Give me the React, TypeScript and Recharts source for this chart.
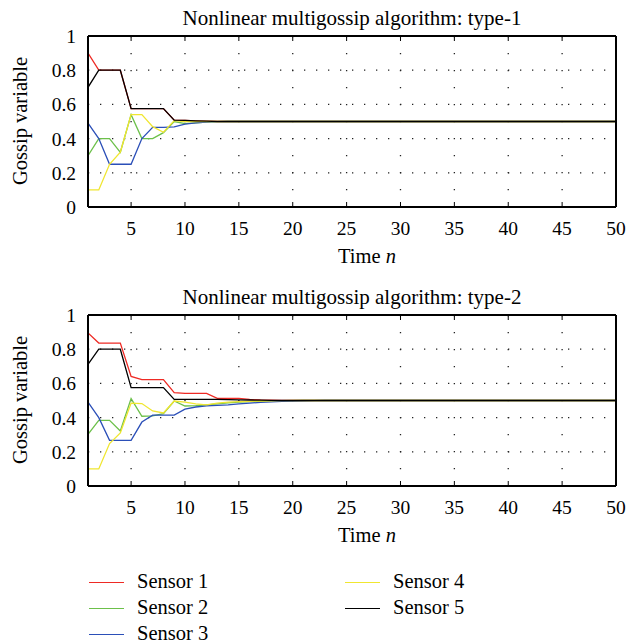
import React from 'react'
import { LineChart, Line, XAxis, YAxis, CartesianGrid } from 'recharts'

const steps = Array.from({ length: 50 }, (_, i) => i + 1)
const xTicks = [5, 10, 15, 20, 25, 30, 35, 40, 45, 50]
const yTicks = [0, 0.2, 0.4, 0.6, 0.8, 1]

// type-1
const t1s1 = [0.9, 0.8, 0.8, 0.8, 0.575, 0.575, 0.575, 0.575, 0.508, 0.506, 0.504, 0.502, 0.5, 0.5, 0.5, 0.5, 0.5, 0.5, 0.5, 0.5, 0.5, 0.5, 0.5, 0.5, 0.5, 0.5, 0.5, 0.5, 0.5, 0.5, 0.5, 0.5, 0.5, 0.5, 0.5, 0.5, 0.5, 0.5, 0.5, 0.5, 0.5, 0.5, 0.5, 0.5, 0.5, 0.5, 0.5, 0.5, 0.5, 0.5]
const t1s2 = [0.3, 0.4, 0.4, 0.32, 0.54, 0.4, 0.4, 0.435, 0.5, 0.488, 0.492, 0.496, 0.499, 0.5, 0.5, 0.5, 0.5, 0.5, 0.5, 0.5, 0.5, 0.5, 0.5, 0.5, 0.5, 0.5, 0.5, 0.5, 0.5, 0.5, 0.5, 0.5, 0.5, 0.5, 0.5, 0.5, 0.5, 0.5, 0.5, 0.5, 0.5, 0.5, 0.5, 0.5, 0.5, 0.5, 0.5, 0.5, 0.5, 0.5]
const t1s3 = [0.49, 0.4, 0.25, 0.25, 0.25, 0.4, 0.466, 0.466, 0.468, 0.485, 0.492, 0.496, 0.499, 0.5, 0.5, 0.5, 0.5, 0.5, 0.5, 0.5, 0.5, 0.5, 0.5, 0.5, 0.5, 0.5, 0.5, 0.5, 0.5, 0.5, 0.5, 0.5, 0.5, 0.5, 0.5, 0.5, 0.5, 0.5, 0.5, 0.5, 0.5, 0.5, 0.5, 0.5, 0.5, 0.5, 0.5, 0.5, 0.5, 0.5]
const t1s4 = [0.1, 0.1, 0.25, 0.32, 0.54, 0.54, 0.47, 0.437, 0.505, 0.5, 0.5, 0.5, 0.5, 0.5, 0.5, 0.5, 0.5, 0.5, 0.5, 0.5, 0.5, 0.5, 0.5, 0.5, 0.5, 0.5, 0.5, 0.5, 0.5, 0.5, 0.5, 0.5, 0.5, 0.5, 0.5, 0.5, 0.5, 0.5, 0.5, 0.5, 0.5, 0.5, 0.5, 0.5, 0.5, 0.5, 0.5, 0.5, 0.5, 0.5]
const t1s5 = [0.7, 0.8, 0.8, 0.8, 0.575, 0.575, 0.575, 0.575, 0.508, 0.506, 0.504, 0.502, 0.5, 0.5, 0.5, 0.5, 0.5, 0.5, 0.5, 0.5, 0.5, 0.5, 0.5, 0.5, 0.5, 0.5, 0.5, 0.5, 0.5, 0.5, 0.5, 0.5, 0.5, 0.5, 0.5, 0.5, 0.5, 0.5, 0.5, 0.5, 0.5, 0.5, 0.5, 0.5, 0.5, 0.5, 0.5, 0.5, 0.5, 0.5]

// type-2
const t2s1 = [0.895, 0.836, 0.836, 0.836, 0.641, 0.622, 0.622, 0.622, 0.546, 0.542, 0.542, 0.542, 0.512, 0.512, 0.512, 0.506, 0.503, 0.502, 0.501, 0.5, 0.5, 0.5, 0.5, 0.5, 0.5, 0.5, 0.5, 0.5, 0.5, 0.5, 0.5, 0.5, 0.5, 0.5, 0.5, 0.5, 0.5, 0.5, 0.5, 0.5, 0.5, 0.5, 0.5, 0.5, 0.5, 0.5, 0.5, 0.5, 0.5, 0.5]
const t2s2 = [0.302, 0.384, 0.384, 0.322, 0.511, 0.408, 0.41, 0.423, 0.497, 0.468, 0.47, 0.475, 0.48, 0.486, 0.49, 0.493, 0.495, 0.497, 0.498, 0.499, 0.5, 0.5, 0.5, 0.5, 0.5, 0.5, 0.5, 0.5, 0.5, 0.5, 0.5, 0.5, 0.5, 0.5, 0.5, 0.5, 0.5, 0.5, 0.5, 0.5, 0.5, 0.5, 0.5, 0.5, 0.5, 0.5, 0.5, 0.5, 0.5, 0.5]
const t2s3 = [0.49, 0.4, 0.267, 0.267, 0.267, 0.374, 0.414, 0.414, 0.415, 0.449, 0.462, 0.468, 0.472, 0.475, 0.48, 0.485, 0.489, 0.492, 0.495, 0.497, 0.498, 0.499, 0.5, 0.5, 0.5, 0.5, 0.5, 0.5, 0.5, 0.5, 0.5, 0.5, 0.5, 0.5, 0.5, 0.5, 0.5, 0.5, 0.5, 0.5, 0.5, 0.5, 0.5, 0.5, 0.5, 0.5, 0.5, 0.5, 0.5, 0.5]
const t2s4 = [0.1, 0.1, 0.248, 0.31, 0.485, 0.482, 0.439, 0.427, 0.497, 0.49, 0.48, 0.475, 0.485, 0.49, 0.493, 0.495, 0.497, 0.498, 0.499, 0.5, 0.5, 0.5, 0.5, 0.5, 0.5, 0.5, 0.5, 0.5, 0.5, 0.5, 0.5, 0.5, 0.5, 0.5, 0.5, 0.5, 0.5, 0.5, 0.5, 0.5, 0.5, 0.5, 0.5, 0.5, 0.5, 0.5, 0.5, 0.5, 0.5, 0.5]
const t2s5 = [0.712, 0.8, 0.8, 0.8, 0.575, 0.575, 0.575, 0.575, 0.506, 0.506, 0.506, 0.506, 0.506, 0.505, 0.504, 0.503, 0.502, 0.501, 0.5, 0.5, 0.5, 0.5, 0.5, 0.5, 0.5, 0.5, 0.5, 0.5, 0.5, 0.5, 0.5, 0.5, 0.5, 0.5, 0.5, 0.5, 0.5, 0.5, 0.5, 0.5, 0.5, 0.5, 0.5, 0.5, 0.5, 0.5, 0.5, 0.5, 0.5, 0.5]

const sensorNames = ['Sensor 1', 'Sensor 2', 'Sensor 3', 'Sensor 4', 'Sensor 5']
const sensorColors = ['#ee2a24', '#6cc04a', '#2b4fb8', '#f0e630', '#000000']

const FONT = '"Liberation Serif", "Times New Roman", serif'

const toRows = (series: number[][]) =>
  steps.map((n, i) => {
    const row: any = { n }
    series.forEach((s, k) => { row['s' + (k + 1)] = s[i] })
    return row
  })

const type1 = toRows([t1s1, t1s2, t1s3, t1s4, t1s5])
const type2 = toRows([t2s1, t2s2, t2s3, t2s4, t2s5])

const BottomTick = (props: any) => {
  const { x, y, payload } = props
  return (
    <g>
      <line x1={x} x2={x} y1={y} y2={y - 5} stroke="#000" strokeWidth={1} />
      <text x={x} y={y + 28} textAnchor="middle" fontSize={19.5} fontFamily={FONT} fill="#000">{payload.value}</text>
    </g>
  )
}

const TopTick = (props: any) => {
  const { x, y } = props
  return <line x1={x} x2={x} y1={y} y2={y + 5} stroke="#000" strokeWidth={1} />
}

const LeftTick = (props: any) => {
  const { x, y, payload } = props
  return (
    <text x={x} y={y + 7} textAnchor="end" fontSize={19.5} fontFamily={FONT} fill="#000">{payload.value}</text>
  )
}

function Panel({ data, title, top }: { data: any[]; title: string; top: number }) {
  return (
    <div style={{ position: 'absolute', left: 0, top, width: 626, height: 280 }}>
      <LineChart width={626} height={280} data={data} margin={{ top: 35, right: 9, left: 28, bottom: 43 }}>
        <CartesianGrid horizontal={true} vertical={false} stroke="#222" strokeWidth={1.3} strokeDasharray="1.3 10.7" />
        <CartesianGrid horizontal={false} vertical={true} stroke="#222" strokeWidth={1.3} strokeDasharray="1.3 15.7" />
        <XAxis dataKey="n" type="number" domain={[1, 50]} ticks={xTicks} allowDataOverflow
          height={30} tickSize={0} tickMargin={0} tickLine={false} tick={<BottomTick />}
          axisLine={{ stroke: '#000', strokeWidth: 2 }} />
        <XAxis xAxisId="top" orientation="top" dataKey="n" type="number" domain={[1, 50]} ticks={xTicks}
          height={1} tickSize={0} tickMargin={0} tickLine={false} tick={<TopTick />}
          axisLine={{ stroke: '#000', strokeWidth: 2 }} />
        <YAxis type="number" domain={[0, 1]} ticks={yTicks} width={60} tickSize={0} tickMargin={12}
          tickLine={false} tick={<LeftTick />} axisLine={{ stroke: '#000', strokeWidth: 2 }} />
        <YAxis yAxisId="right" orientation="right" type="number" domain={[0, 1]} ticks={yTicks} width={1}
          tick={false} tickLine={false} axisLine={{ stroke: '#000', strokeWidth: 2 }} />
        {sensorNames.map((name, k) => (
          <Line key={name} type="linear" dataKey={'s' + (k + 1)} name={name} stroke={sensorColors[k]}
            strokeWidth={1.3} dot={false} isAnimationActive={false} />
        ))}
      </LineChart>
      <div style={{ position: 'absolute', left: 88, width: 528, top: 6, textAlign: 'center', fontFamily: FONT, fontSize: 21, lineHeight: '24px', whiteSpace: 'nowrap' }}>{title}</div>
      <div style={{ position: 'absolute', left: 267, width: 200, top: 244, textAlign: 'center', fontFamily: FONT, fontSize: 20.5, lineHeight: '24px' }}>Time <i>n</i></div>
      <div style={{ position: 'absolute', left: 20 - 90, top: 121 - 12, width: 180, textAlign: 'center', transform: 'rotate(-90deg)', fontFamily: FONT, fontSize: 20.5, lineHeight: '24px', whiteSpace: 'nowrap' }}>Gossip variable</div>
    </div>
  )
}

function Legend() {
  const cols = [[0, 1, 2], [3, 4]]
  const colX = [[89, 137], [345, 393]]
  return (
    <>
      {cols.map((col, c) => col.map((k, r) => (
        <div key={k} style={{ position: 'absolute', left: colX[c][0], top: 582 + r * 26 - 12, height: 24, display: 'flex', alignItems: 'center' }}>
          <div style={{ width: 35, height: 0, borderTop: `1.3px solid ${sensorColors[k]}` }} />
          <div style={{ position: 'absolute', left: colX[c][1] - colX[c][0], top: -1, whiteSpace: 'nowrap', fontFamily: FONT, fontSize: 20.5, lineHeight: '24px' }}>{sensorNames[k]}</div>
        </div>
      )))}
    </>
  )
}

export default function App() {
  return (
    <div style={{ position: 'absolute', left: 0, top: 0, width: 626, height: 643, background: '#fff', overflow: 'hidden' }}>
      <Panel data={type1} title="Nonlinear multigossip algorithm: type-1" top={0} />
      <Panel data={type2} title="Nonlinear multigossip algorithm: type-2" top={279} />
      <Legend />
    </div>
  )
}
